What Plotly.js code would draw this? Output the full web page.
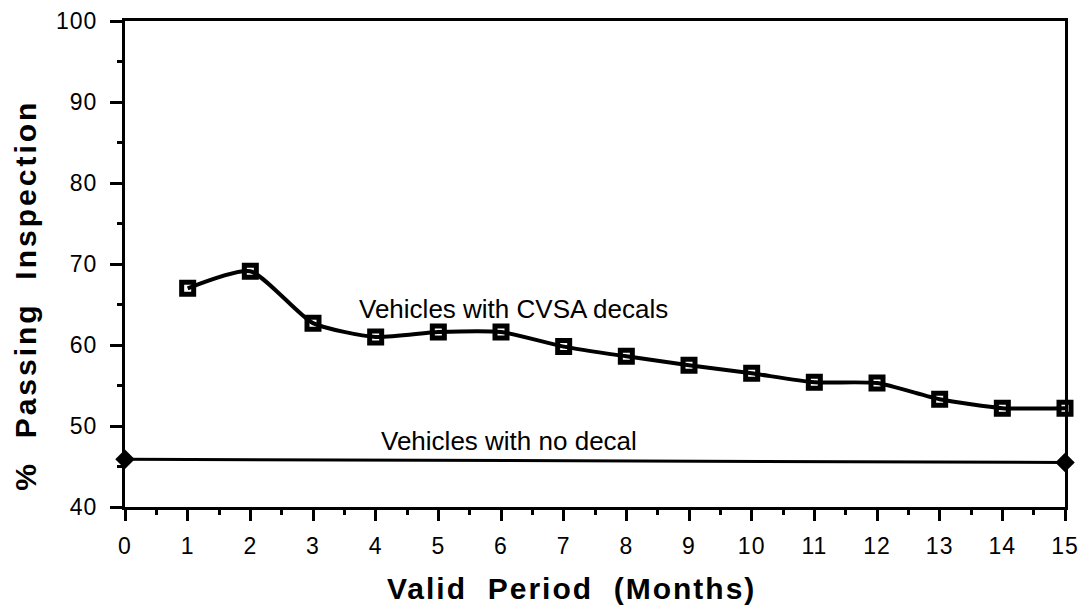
<!DOCTYPE html>
<html>
<head>
<meta charset="utf-8">
<script src="https://cdn.plot.ly/plotly-3.0.1.min.js"></script>
<style>
html,body{margin:0;padding:0;background:#fff;}
#chart{width:1085px;height:610px;}
#chart .annotation[data-index="2"] text{letter-spacing:2px;}
#chart .annotation[data-index="3"] text{letter-spacing:3px;}
#chart .xtick text, #chart .ytick text{letter-spacing:1px;}
</style>
</head>
<body>
<div id="chart"></div>
<script>
const months = [1,2,3,4,5,6,7,8,9,10,11,12,13,14,15];
const cvsaPct = [67.0,69.1,62.7,61.0,61.6,61.6,59.8,58.6,57.5,56.5,55.4,55.3,53.3,52.2,52.2];
const noDecalMonths = [0,15];
const noDecalPct = [45.9,45.5];
const cvsaLabel = "Vehicles with CVSA decals";
const noDecalLabel = "Vehicles with no decal";
const xTitle = "Valid\u00a0\u00a0Period\u00a0\u00a0(Months)";
const yTitle = "%\u00a0\u00a0Passing\u00a0\u00a0Inspection";

const font = "Liberation Sans, Arial, Helvetica, sans-serif";

const traces = [
  {x: noDecalMonths, y: noDecalPct, mode: 'lines+markers', type: 'scatter',
   line: {color: '#000', width: 3},
   marker: {symbol: 'diamond', size: 15, color: '#000'},
   cliponaxis: false, name: noDecalLabel},
  {x: months, y: cvsaPct, mode: 'lines+markers', type: 'scatter',
   line: {color: '#000', width: 4, shape: 'spline', smoothing: 0.6},
   marker: {symbol: 'square-open', size: 12, color: '#000', line: {width: 5, color: '#000'}},
   cliponaxis: false, name: cvsaLabel}
];

const layout = {
  width: 1085, height: 610,
  margin: {l: 125, r: 20, t: 21, b: 103},
  paper_bgcolor: '#fff', plot_bgcolor: '#fff',
  showlegend: false,
  font: {family: font, color: '#000', size: 18},
  xaxis: {
    range: [0, 15], dtick: 1, tick0: 0,
    showgrid: false, zeroline: false,
    showline: true, linecolor: '#000', linewidth: 3, mirror: true,
    ticks: 'outside', ticklen: 11, tickwidth: 3, tickcolor: '#000',
    minor: {dtick: 0.5, ticks: 'outside', ticklen: 5, tickwidth: 3, tickcolor: '#000', showgrid: false},
    tickfont: {size: 23, family: font},
    ticklabelstandoff: 5
  },
  yaxis: {
    range: [40, 100], dtick: 10, tick0: 40,
    showgrid: false, zeroline: false,
    showline: true, linecolor: '#000', linewidth: 3, mirror: true,
    ticks: 'outside', ticklen: 12, tickwidth: 3, tickcolor: '#000',
    minor: {dtick: 5, ticks: 'outside', ticklen: 5, tickwidth: 3, tickcolor: '#000', showgrid: false},
    tickfont: {size: 23, family: font},
    ticklabelstandoff: 8
  },
  annotations: [
    {x: 6.2, y: 64.4, xref: 'x', yref: 'y', text: cvsaLabel, showarrow: false,
     font: {size: 26, family: font}},
    {x: 6.13, y: 48.1, xref: 'x', yref: 'y', text: noDecalLabel, showarrow: false,
     font: {size: 26, family: font}},
    {x: 0.4755, y: -0.168, xref: 'paper', yref: 'paper', text: '<b>' + xTitle + '</b>', showarrow: false,
     xanchor: 'center', yanchor: 'middle', font: {size: 30, family: font}},
    {x: -0.1068, y: 0.436, xref: 'paper', yref: 'paper', text: '<b>' + yTitle + '</b>', showarrow: false,
     textangle: -90, xanchor: 'center', yanchor: 'middle', font: {size: 30, family: font}}
  ]
};

Plotly.newPlot('chart', traces, layout, {displayModeBar: false, staticPlot: true});
</script>
</body>
</html>
